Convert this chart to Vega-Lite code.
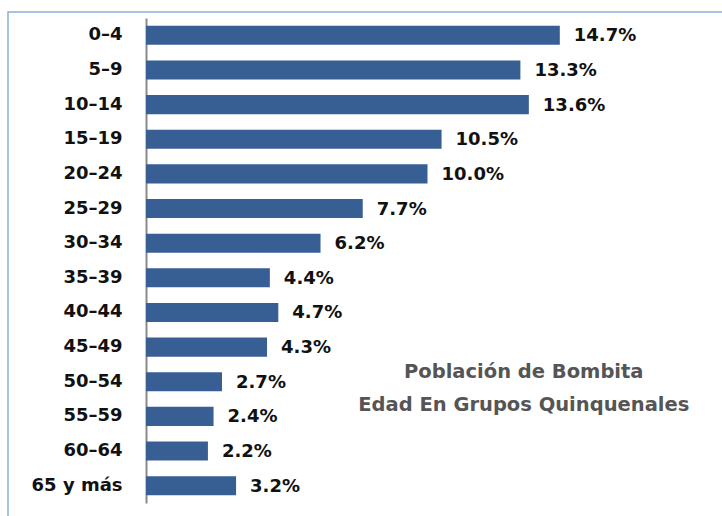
{
  "$schema": "https://vega.github.io/schema/vega-lite/v6.json",
  "autosize": {"type": "none"},
  "padding": {"left": 8, "top": 12, "right": 0, "bottom": 0},
  "width": 716,
  "height": 506,
  "background": "white",
  "config": {
    "view": {"stroke": "#8CAEDB", "strokeWidth": 1.5},
    "font": "DejaVu Sans"
  },
  "data": {
    "values": [
      {"edad": "0–4", "pct": 0.147},
      {"edad": "5–9", "pct": 0.133},
      {"edad": "10–14", "pct": 0.136},
      {"edad": "15–19", "pct": 0.105},
      {"edad": "20–24", "pct": 0.100},
      {"edad": "25–29", "pct": 0.077},
      {"edad": "30–34", "pct": 0.062},
      {"edad": "35–39", "pct": 0.044},
      {"edad": "40–44", "pct": 0.047},
      {"edad": "45–49", "pct": 0.043},
      {"edad": "50–54", "pct": 0.027},
      {"edad": "55–59", "pct": 0.024},
      {"edad": "60–64", "pct": 0.022},
      {"edad": "65 y más", "pct": 0.032}
    ]
  },
  "layer": [
    {
      "mark": {"type": "bar", "color": "#375F94"},
      "encoding": {
        "y": {
          "field": "edad", "type": "nominal", "sort": null,
          "scale": {"range": [6, 491], "paddingInner": 0.45, "paddingOuter": 0.225},
          "axis": {
            "title": null, "offset": -138, "ticks": false, "labelPadding": 24,
            "domainColor": "#8A8A8A", "domainWidth": 2,
            "labelFont": "DejaVu Sans", "labelFontSize": 18, "labelFontWeight": "bold",
            "labelColor": "#111111"
          }
        },
        "x": {
          "field": "pct", "type": "quantitative",
          "scale": {"domain": [0, 0.2], "range": [138, 701]},
          "axis": null
        }
      }
    },
    {
      "mark": {"type": "text", "align": "left", "baseline": "middle", "dx": 14, "dy": 1,
               "font": "DejaVu Sans", "fontSize": 18, "fontWeight": "bold", "color": "#111111"},
      "encoding": {
        "y": {"field": "edad", "type": "nominal", "sort": null},
        "x": {"field": "pct", "type": "quantitative"},
        "text": {"field": "pct", "type": "quantitative", "format": ".1%"}
      }
    },
    {
      "data": {"values": [{"t": "Población de Bombita"}]},
      "mark": {"type": "text", "align": "center", "baseline": "middle", "dy": -10,
               "font": "DejaVu Sans", "fontSize": 19.5, "fontWeight": "bold", "color": "#555555"},
      "encoding": {
        "x": {"datum": 0.1342, "type": "quantitative"},
        "y": {"datum": "50–54", "type": "nominal"},
        "text": {"field": "t", "type": "nominal"}
      }
    },
    {
      "data": {"values": [{"t": "Edad En Grupos Quinquenales"}]},
      "mark": {"type": "text", "align": "center", "baseline": "middle", "dy": -11,
               "font": "DejaVu Sans", "fontSize": 19.5, "fontWeight": "bold", "color": "#555555"},
      "encoding": {
        "x": {"datum": 0.1342, "type": "quantitative"},
        "y": {"datum": "55–59", "type": "nominal"},
        "text": {"field": "t", "type": "nominal"}
      }
    }
  ]
}
